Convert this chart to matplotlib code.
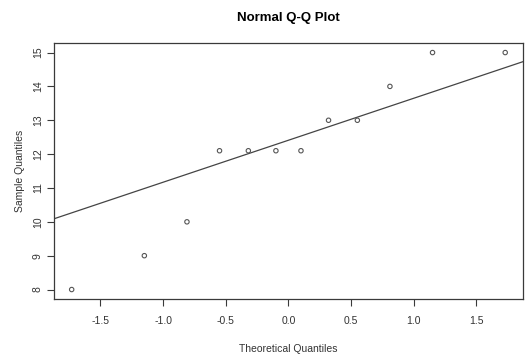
#!/usr/bin/env python3
import matplotlib
matplotlib.use("Agg")
import matplotlib.pyplot as plt

# -----------------------------------------------------------------------------
# Data
# -----------------------------------------------------------------------------

theoretical = [-1.73, -1.15, -0.81, -0.55, -0.32, -0.10,
               0.10, 0.32, 0.55, 0.81, 1.15, 1.73]
sample = [8, 9, 10, 12.1, 12.1, 12.1, 12.1, 13, 13, 14, 15, 15]

x_ticks = [-1.5, -1.0, -0.5, 0.0, 0.5, 1.0, 1.5]
y_ticks = [8, 9, 10, 11, 12, 13, 14, 15]

# reference line (qqline)
line_intercept = 12.41
line_slope = 1.24

# -----------------------------------------------------------------------------
# Plot
# -----------------------------------------------------------------------------

plt.rcParams["font.family"] = ["Liberation Sans", "DejaVu Sans"]
ink = "#3a3a3a"

fig = plt.figure(figsize=(5.31, 3.62), dpi=100)
ax = fig.add_axes([0.1017, 0.174, 0.883, 0.707])

ax.scatter(theoretical, sample, s=10, facecolors="none",
           edgecolors="#555555", linewidths=0.8, zorder=3)

xlim = (-1.871, 1.871)
ax.plot(xlim, [line_intercept + line_slope * x for x in xlim],
        color="#444444", lw=0.9)

ax.set_xlim(xlim)
ax.set_ylim(7.72, 15.28)
ax.set_xticks(x_ticks)
ax.set_xticklabels([f"{v:.1f}" for v in x_ticks])
ax.set_yticks(y_ticks)
ax.set_yticklabels([str(v) for v in y_ticks], rotation=90, va="center")

ax.tick_params(length=5, width=0.8, color=ink, labelcolor="#333333",
               labelsize=7.5)
ax.tick_params(axis="x", pad=7)
ax.tick_params(axis="y", pad=3)
for sp in ax.spines.values():
    sp.set_color(ink)
    sp.set_linewidth(0.9)

ax.set_title("Normal Q-Q Plot", fontsize=9.5, fontweight="bold", pad=16)
ax.set_xlabel("Theoretical Quantiles", fontsize=7.5, color="#333333", labelpad=13)
ax.set_ylabel("Sample Quantiles", fontsize=7.5, color="#333333", labelpad=6)

fig.savefig("out.png", dpi=100)
